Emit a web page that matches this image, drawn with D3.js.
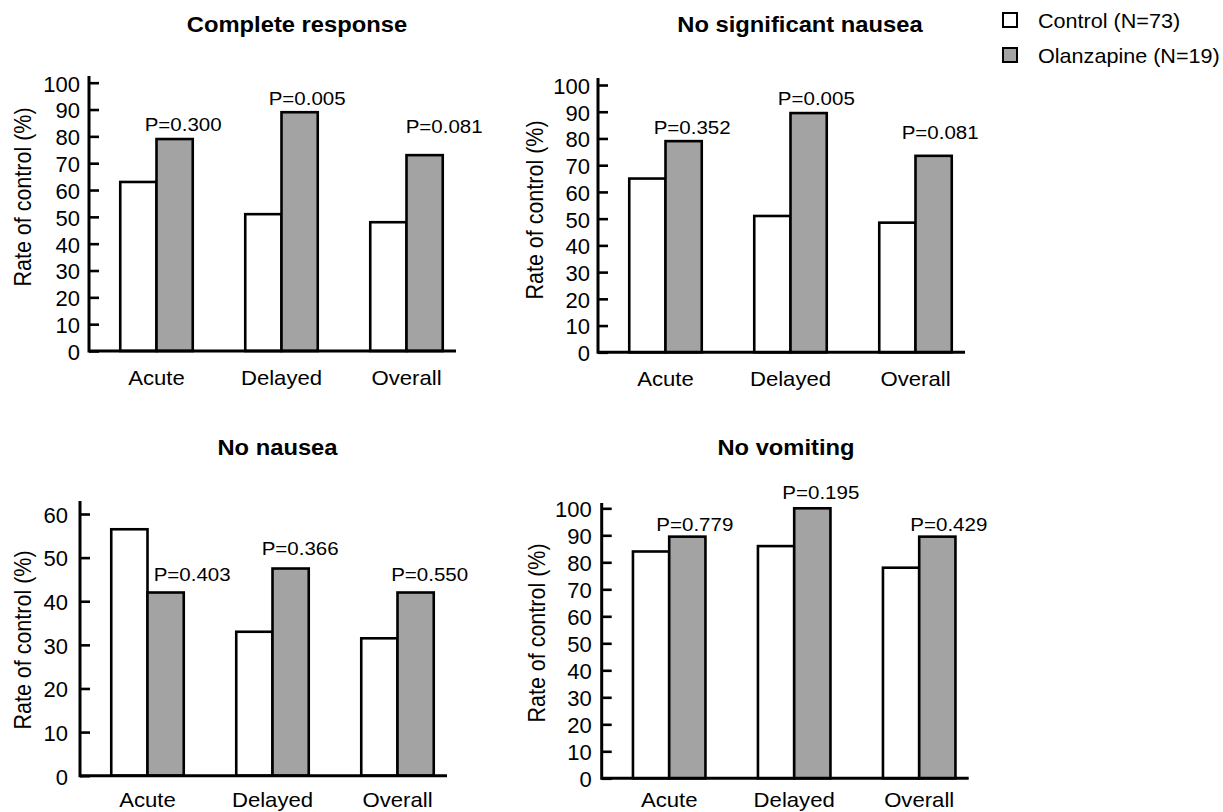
<!DOCTYPE html>
<html>
<head>
<meta charset="utf-8">
<script src="https://cdn.jsdelivr.net/npm/d3@7"></script>
<style>
  html, body { margin: 0; padding: 0; background: #fff; }
  svg { display: block; }
  text { font-family: "Liberation Sans", Arial, sans-serif; fill: #000; }
</style>
</head>
<body>
<svg id="chart" width="1223" height="812"></svg>
<script>
// ---------- data ----------
const categories = ["Acute", "Delayed", "Overall"];
const seriesNames = ["Control (N=73)", "Olanzapine (N=19)"];
const panelTitles = ["Complete response", "No significant nausea", "No nausea", "No vomiting"];
const controlValues = [
  [63, 51, 48],
  [65, 51, 48.5],
  [56.5, 33, 31.5],
  [84, 86, 78]
];
const olanzapineValues = [
  [79, 89, 73],
  [79, 89.5, 73.5],
  [42, 47.5, 42],
  [89.5, 100, 89.5]
];
const pLabels = [
  ["P=0.300", "P=0.005", "P=0.081"],
  ["P=0.352", "P=0.005", "P=0.081"],
  ["P=0.403", "P=0.366", "P=0.550"],
  ["P=0.779", "P=0.195", "P=0.429"]
];
const yMaxTicks = [100, 100, 60, 100];
const yTickSteps = [10, 10, 10, 10];
const yAxisTitle = "Rate of control (%)";

// ---------- layout (positions / styles) ----------
const layouts = [
  { axisX: 89,    y0: 351,   yTop: 82.7, axisTop: 102.5, title: [297, 32],  yTitle: [23, 197], catDy: 34, tickPad: 9,
    pdx: [8.5, 7.5, 19.5], pdy: [-8.3, -7, -22.6] },
  { axisX: 598,   y0: 352.3, yTop: 85,   axisTop: 102.6, title: [800, 32],  yTitle: [535, 210], catDy: 34, tickPad: 8,
    pdx: [8.5, 7.7, 6.5],  pdy: [-7, -7.7, -17] },
  { axisX: 80,    y0: 775.7, yTop: 514,  axisTop: 63,    title: [277.5, 455], yTitle: [23, 640], catDy: 31, tickPad: 12,
    pdx: [26.5, 9.5, 14],  pdy: [-11.7, -13.3, -12] },
  { axisX: 601.7, y0: 778.3, yTop: 508.3, axisTop: 102,  title: [786, 455], yTitle: [537, 633], catDy: 29, tickPad: 10,
    pdx: [7.5, 8.5, 11.5], pdy: [-5.6, -9.3, -5.6] }
];
const axisLength = 367;
const bandOffset = 5;
const bandSpan = 375;
const barFrac = 0.29;
const fills = ["#ffffff", "#a3a3a3"];
const SX = 1.08; // horizontal stretch of the source image text

const svg = d3.select("#chart");

function stext(g, x, y, str, size, anchor, weight, family) {
  const t = g.append("text")
    .attr("transform", `translate(${x},${y}) scale(${SX},1)`)
    .attr("text-anchor", anchor || "middle")
    .attr("font-size", size)
    .text(str);
  if (weight) t.attr("font-weight", weight);
  if (family) t.attr("font-family", family);
  return t;
}

layouts.forEach((L, i) => {
  const g = svg.append("g");
  const x = d3.scaleBand().domain(categories)
    .range([L.axisX + bandOffset, L.axisX + bandOffset + bandSpan]);
  const y = d3.scaleLinear().domain([0, yMaxTicks[i]]).range([L.y0, L.yTop]);
  const bw = x.bandwidth() * barFrac;

  const rows = categories.map((c, j) => ({ c, j, v: [controlValues[i][j], olanzapineValues[i][j]] }));
  rows.forEach(r => {
    const cx = x(r.c) + x.bandwidth() / 2;
    r.v.forEach((v, s) => {
      g.append("rect")
        .attr("x", cx - bw + s * bw)
        .attr("y", y(v))
        .attr("width", bw)
        .attr("height", y(0) - y(v))
        .attr("fill", fills[s])
        .attr("stroke", "#000")
        .attr("stroke-width", 2.6);
    });
    stext(g, cx + bw / 2 + L.pdx[r.j], y(r.v[1]) + L.pdy[r.j], pLabels[i][r.j], 19);
    stext(g, cx, L.y0 + L.catDy, r.c, 20.5);
  });

  // y axis
  const ticks = d3.range(0, yMaxTicks[i] + 0.1, yTickSteps[i]);
  const axis = d3.axisLeft(y).tickValues(ticks).tickSizeInner(-10).tickSizeOuter(0).tickPadding(L.tickPad)
    .tickFormat(d3.format("d"));
  const ag = g.append("g").attr("transform", `translate(${L.axisX},0)`).call(axis);
  ag.attr("font-size", 22).attr("font-family", "'Liberation Sans', Arial, sans-serif");
  ag.select(".domain").remove();
  ag.selectAll(".tick line").attr("stroke", "#000").attr("stroke-width", 2.6);
  ag.selectAll(".tick text")
    .attr("dy", "0.38em")
    .attr("font-size", 22)
    .attr("fill", "#000");

  g.append("line")
    .attr("x1", L.axisX).attr("x2", L.axisX)
    .attr("y1", y(0) + 1.5).attr("y2", y(L.axisTop))
    .attr("stroke", "#000").attr("stroke-width", 3);
  g.append("line")
    .attr("x1", L.axisX).attr("x2", L.axisX + axisLength)
    .attr("y1", y(0)).attr("y2", y(0))
    .attr("stroke", "#000").attr("stroke-width", 3);

  stext(g, L.title[0], L.title[1], panelTitles[i], 22, "middle", "bold");
  g.append("text")
    .attr("transform", `translate(${L.yTitle[0]},${L.yTitle[1]}) rotate(-90) scale(1,${SX})`)
    .attr("text-anchor", "middle")
    .attr("dominant-baseline", "central")
    .attr("font-size", 21.5)
    .text(yAxisTitle);
});

// legend
const lg = svg.append("g");
seriesNames.forEach((s, k) => {
  lg.append("rect")
    .attr("x", 1003).attr("y", 13 + k * 35)
    .attr("width", 14).attr("height", 14)
    .attr("fill", fills[k]).attr("stroke", "#000").attr("stroke-width", 2);
  stext(lg, 1038, 28 + k * 35, s, 20, "start", null, "Lato, 'Open Sans', sans-serif");
});
</script>
</body>
</html>
